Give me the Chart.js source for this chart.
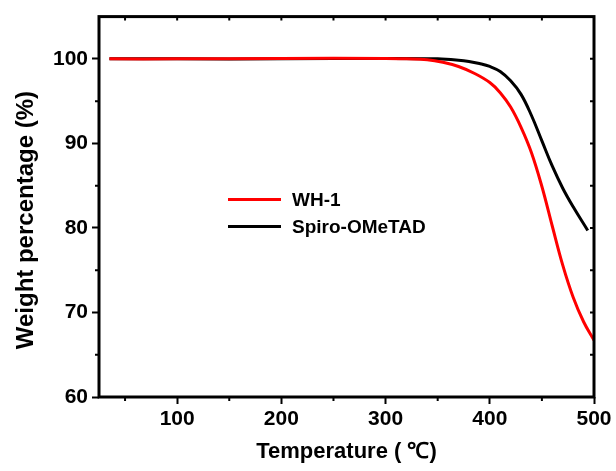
<!DOCTYPE html>
<html lang="en">
<head>
  <meta charset="UTF-8" />
  <title>TGA - WH-1 vs Spiro-OMeTAD</title>
  <script src="https://cdn.jsdelivr.net/npm/chart.js"></script>
  <style>
    html, body { margin: 0; padding: 0; background: #fff; }
    #wrap { width: 616px; height: 471px; }
  </style>
</head>
<body>
  <div id="wrap"><canvas id="chart" width="616" height="471"></canvas></div>

  <script>
    // WH-1 (red)
    const wh1Temp = [35, 100, 200, 300, 320, 340, 355, 370, 385, 400, 410, 420, 430, 440, 450, 460, 470, 480, 490, 500];
    const wh1Weight = [100, 100, 100.05, 100.05, 100, 99.9, 99.6, 99.1, 98.3, 97.2, 96.0, 94.3, 91.9, 88.9, 84.9, 80.2, 75.6, 71.8, 68.9, 66.7];

    // Spiro-OMeTAD (black)
    const spiroTemp = [35, 100, 200, 300, 350, 370, 380, 390, 400, 410, 420, 430, 440, 450, 460, 470, 480, 494];
    const spiroWeight = [100, 100, 100, 100.05, 100, 99.85, 99.7, 99.45, 99.1, 98.5, 97.4, 95.8, 93.3, 90.3, 87.3, 84.7, 82.5, 79.7];

    const xTicks = [100, 200, 300, 400, 500];
    const xMinor = [50, 150, 250, 350, 450];
    const yTicks = [60, 70, 80, 90, 100];
    const yMinor = [65, 75, 85, 95];

    const FONT = "'Liberation Sans', Arial, sans-serif";

    function toPoints(xs, ys) {
      return xs.map((x, i) => ({ x: x, y: ys[i] }));
    }

    // frame, minor ticks and inner ticks on top/right
    const framePlugin = {
      id: 'frame',
      afterDraw(chart) {
        const { ctx, chartArea: a, scales } = chart;
        const xs = scales.x, ys = scales.y;
        ctx.save();
        ctx.strokeStyle = '#000';
        ctx.lineWidth = 3;
        ctx.strokeRect(a.left, a.top, a.right - a.left, a.bottom - a.top);
        ctx.lineWidth = 2;
        ctx.beginPath();
        xMinor.forEach(v => {
          const px = xs.getPixelForValue(v);
          ctx.moveTo(px, a.bottom); ctx.lineTo(px, a.bottom + 4);
        });
        xTicks.concat(xMinor).forEach(v => {
          const px = xs.getPixelForValue(v);
          ctx.moveTo(px, a.top); ctx.lineTo(px, a.top + 4);
        });
        yMinor.forEach(v => {
          const py = ys.getPixelForValue(v);
          ctx.moveTo(a.left, py); ctx.lineTo(a.left - 4, py);
        });
        yTicks.concat(yMinor).forEach(v => {
          const py = ys.getPixelForValue(v);
          ctx.moveTo(a.right, py); ctx.lineTo(a.right - 4, py);
        });
        ctx.stroke();
        ctx.restore();
      }
    };

    // legend inside plot area
    const legendPlugin = {
      id: 'innerLegend',
      afterDraw(chart) {
        const { ctx, chartArea: a } = chart;
        const x0 = a.left + 129, y0 = a.top + 183, gap = 27;
        ctx.save();
        ctx.font = 'bold 19px ' + FONT;
        ctx.textBaseline = 'middle';
        chart.data.datasets.forEach((ds, i) => {
          const y = y0 + i * gap;
          ctx.strokeStyle = ds.borderColor;
          ctx.lineWidth = 3;
          ctx.beginPath();
          ctx.moveTo(x0, y); ctx.lineTo(x0 + 53, y);
          ctx.stroke();
          ctx.fillStyle = '#000';
          ctx.fillText(ds.label, x0 + 64, y + 1);
        });
        ctx.restore();
      }
    };

    const ctx = document.getElementById('chart').getContext('2d');
    new Chart(ctx, {
      type: 'line',
      data: {
        datasets: [
          { label: 'WH-1', data: toPoints(wh1Temp, wh1Weight), borderColor: '#ff0000', borderWidth: 3, pointRadius: 0, tension: 0.4, fill: false },
          { label: 'Spiro-OMeTAD', data: toPoints(spiroTemp, spiroWeight), borderColor: '#000000', borderWidth: 3, pointRadius: 0, tension: 0.4, fill: false }
        ]
      },
      options: {
        responsive: false,
        animation: false,
        layout: { padding: { top: 15, right: 22, left: 0, bottom: 0 } },
        plugins: { legend: { display: false }, tooltip: { enabled: false } },
        scales: {
          x: {
            type: 'linear', min: 25, max: 500,
            afterBuildTicks: s => { s.ticks = xTicks.map(v => ({ value: v })); },
            afterFit: s => { s.height = 74; },
            grid: { display: true, drawOnChartArea: false, drawTicks: true, tickLength: 7, tickWidth: 2, color: '#000' },
            border: { display: false },
            ticks: { color: '#000', padding: 3, maxRotation: 0, font: { family: FONT, size: 21, weight: 'bold' } },
            title: { display: true, text: 'Temperature ( \u2103)', color: '#000', padding: { top: 0, bottom: 6 }, font: { family: FONT, size: 22, weight: 'bold' } }
          },
          y: {
            type: 'linear', min: 60, max: 105,
            afterBuildTicks: s => { s.ticks = yTicks.map(v => ({ value: v })); },
            afterFit: s => { s.width = 99; },
            grid: { display: true, drawOnChartArea: false, drawTicks: true, tickLength: 7, tickWidth: 2, color: '#000' },
            border: { display: false },
            ticks: { color: '#000', padding: 4, font: { family: FONT, size: 21, weight: 'bold' } },
            // trailing spaces push the rotated title a little below the centre, as in the original
            title: { display: true, text: 'Weight percentage (%)    ', color: '#000', padding: { top: 12, bottom: 0 }, font: { family: FONT, size: 24, weight: 'bold' } }
          }
        }
      },
      plugins: [framePlugin, legendPlugin]
    });
  </script>
</body>
</html>
